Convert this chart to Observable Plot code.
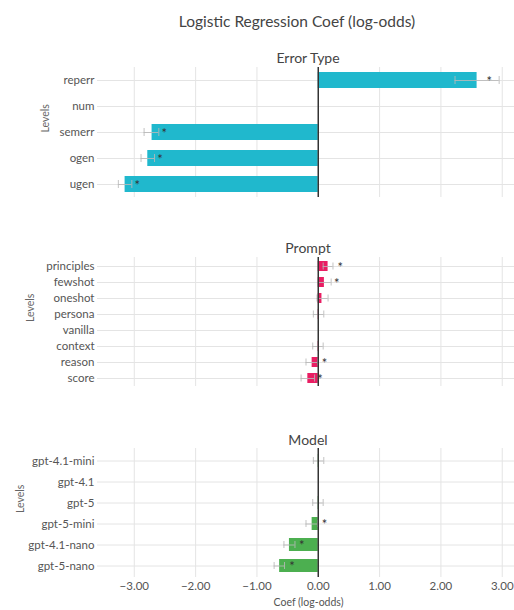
<!DOCTYPE html>
<html>
<head>
<meta charset="utf-8">
<script src="https://cdn.jsdelivr.net/npm/d3@7"></script>
<script src="https://cdn.jsdelivr.net/npm/@observablehq/plot@0.6"></script>
<style>
  html, body { margin: 0; padding: 0; background: #fff; }
  #root { position: relative; width: 514px; height: 610px; font-family: Lato, "Open Sans", sans-serif; color: #444; overflow: hidden; }
  .t { position: absolute; transform: translate(-50%, -50%); white-space: nowrap; }
  .panel { position: absolute; left: 0; }
</style>
</head>
<body>
<div id="root"></div>
<script>
// ---- data ----
const mainTitle = "Logistic Regression Coef (log-odds)";
const xLabel = "Coef (log-odds)";
const yLabel = "Levels";
const xTicks = [-3, -2, -1, 0, 1, 2, 3];

const errTitle = "Error Type";
const errLevels = ["reperr", "num", "semerr", "ogen", "ugen"];
const errCoef = [2.59, 0, -2.71, -2.78, -3.15];
const errLo = [2.23, null, -2.84, -2.89, -3.26];
const errHi = [2.95, null, -2.60, -2.67, -3.04];
const errSig = [true, false, true, true, true];

const promptTitle = "Prompt";
const promptLevels = ["principles", "fewshot", "oneshot", "persona", "vanilla", "context", "reason", "score"];
const promptCoef = [0.16, 0.10, 0.06, 0.01, 0, -0.005, -0.10, -0.17];
const promptLo = [0.08, 0.0, -0.02, -0.08, null, -0.09, -0.20, -0.28];
const promptHi = [0.24, 0.21, 0.16, 0.09, null, 0.08, -0.01, -0.06];
const promptSig = [true, true, false, false, false, false, true, true];

const modelTitle = "Model";
const modelLevels = ["gpt-4.1-mini", "gpt-4.1", "gpt-5", "gpt-5-mini", "gpt-4.1-nano", "gpt-5-nano"];
const modelCoef = [0.005, 0, -0.005, -0.10, -0.47, -0.63];
const modelLo = [-0.08, null, -0.09, -0.20, -0.56, -0.72];
const modelHi = [0.09, null, 0.08, -0.01, -0.38, -0.55];
const modelSig = [false, false, false, true, true, true];

const colors = {err: "#20b8cd", prompt: "#e91e63", model: "#4caf50"};

// ---- layout ----
const root = document.getElementById("root");
function addText(txt, x, y, size, color) {
  const d = document.createElement("div");
  d.className = "t";
  d.textContent = txt;
  d.style.left = x + "px";
  d.style.top = y + "px";
  d.style.fontSize = size + "px";
  d.style.color = color;
  root.appendChild(d);
}

const FONT = 'Lato, "Open Sans", sans-serif';
const fmt = d3.format(".2f");

function panel({levels, coef, lo, hi, sig, color, top, plotH, labelDx, showX, capInset}) {
  const rows = levels.map((l, i) => ({level: l, coef: coef[i], lo: lo[i], hi: hi[i], sig: sig[i]}));
  const ci = rows.filter(d => d.lo != null);
  const st = rows.filter(d => d.sig);
  const mb = showX ? 33 : 0;
  const marks = [
    Plot.gridX(xTicks, {stroke: "#e4e4e4", strokeOpacity: 1}),
    Plot.gridY(levels, {stroke: "#e4e4e4", strokeOpacity: 1}),
    Plot.barX(rows, {x1: 0, x2: "coef", y: "level", fill: color}),
    Plot.ruleY(ci, {x1: "lo", x2: "hi", y: "level", stroke: "#b8b8b8", strokeOpacity: 0.85}),
    Plot.tickX(ci, {x: "lo", y: "level", stroke: "#b8b8b8", strokeOpacity: 0.85, insetTop: capInset, insetBottom: capInset}),
    Plot.tickX(ci, {x: "hi", y: "level", stroke: "#b8b8b8", strokeOpacity: 0.85, insetTop: capInset, insetBottom: capInset}),
    Plot.ruleX([0], {stroke: "#333", strokeWidth: 1.5}),
    Plot.text(st, {x: d => d.coef + 0.2, y: "level", text: () => "*", fontSize: 13, fill: "#333", dy: 1}),
    Plot.axisY({tickSize: 0, tickPadding: 3, label: null, fontSize: 11.5, fill: "#555"}),
    Plot.text([yLabel], {frameAnchor: "left", dx: labelDx, rotate: -90, text: d => d, fontSize: 10.5, fill: "#666"})
  ];
  if (showX) {
    marks.push(Plot.axisX(xTicks, {tickSize: 0, tickPadding: 4, tickFormat: fmt, fontSize: 11.5, fill: "#555",
      label: null}));
    marks.push(Plot.text([xLabel], {frameAnchor: "bottom", dx: 2.5, dy: 28, text: d => d, fontSize: 10.5, fill: "#555"}));
  }
  const svg = Plot.plot({
    width: 514,
    height: plotH + mb,
    marginLeft: 97,
    marginRight: 0,
    marginTop: 0,
    marginBottom: mb,
    style: {fontFamily: FONT, fontSize: "12px", color: "#555", background: "transparent", overflow: "visible"},
    x: {domain: [-3.6, 3.2], axis: showX ? undefined : null},
    y: {domain: levels, type: "band", paddingInner: 0.4, paddingOuter: 0.2},
    marks
  });
  const wrap = document.createElement("div");
  wrap.className = "panel";
  wrap.style.top = top + "px";
  wrap.appendChild(svg);
  root.appendChild(wrap);
}

addText(mainTitle, 297, 21, 15.5, "#444");
addText(errTitle, 308, 57, 14, "#444");
addText(promptTitle, 308, 247, 14, "#444");
addText(modelTitle, 308, 439, 14, "#444");

panel({levels: errLevels, coef: errCoef, lo: errLo, hi: errHi, sig: errSig, color: colors.err,
  top: 67, plotH: 130, labelDx: -52, showX: false, capInset: 4});
panel({levels: promptLevels, coef: promptCoef, lo: promptLo, hi: promptHi, sig: promptSig, color: colors.prompt,
  top: 257, plotH: 129, labelDx: -67, showX: false, capInset: 1.5});
panel({levels: modelLevels, coef: modelCoef, lo: modelLo, hi: modelHi, sig: modelSig, color: colors.model,
  top: 448, plotH: 129, labelDx: -77, showX: true, capInset: 3});
</script>
</body>
</html>
